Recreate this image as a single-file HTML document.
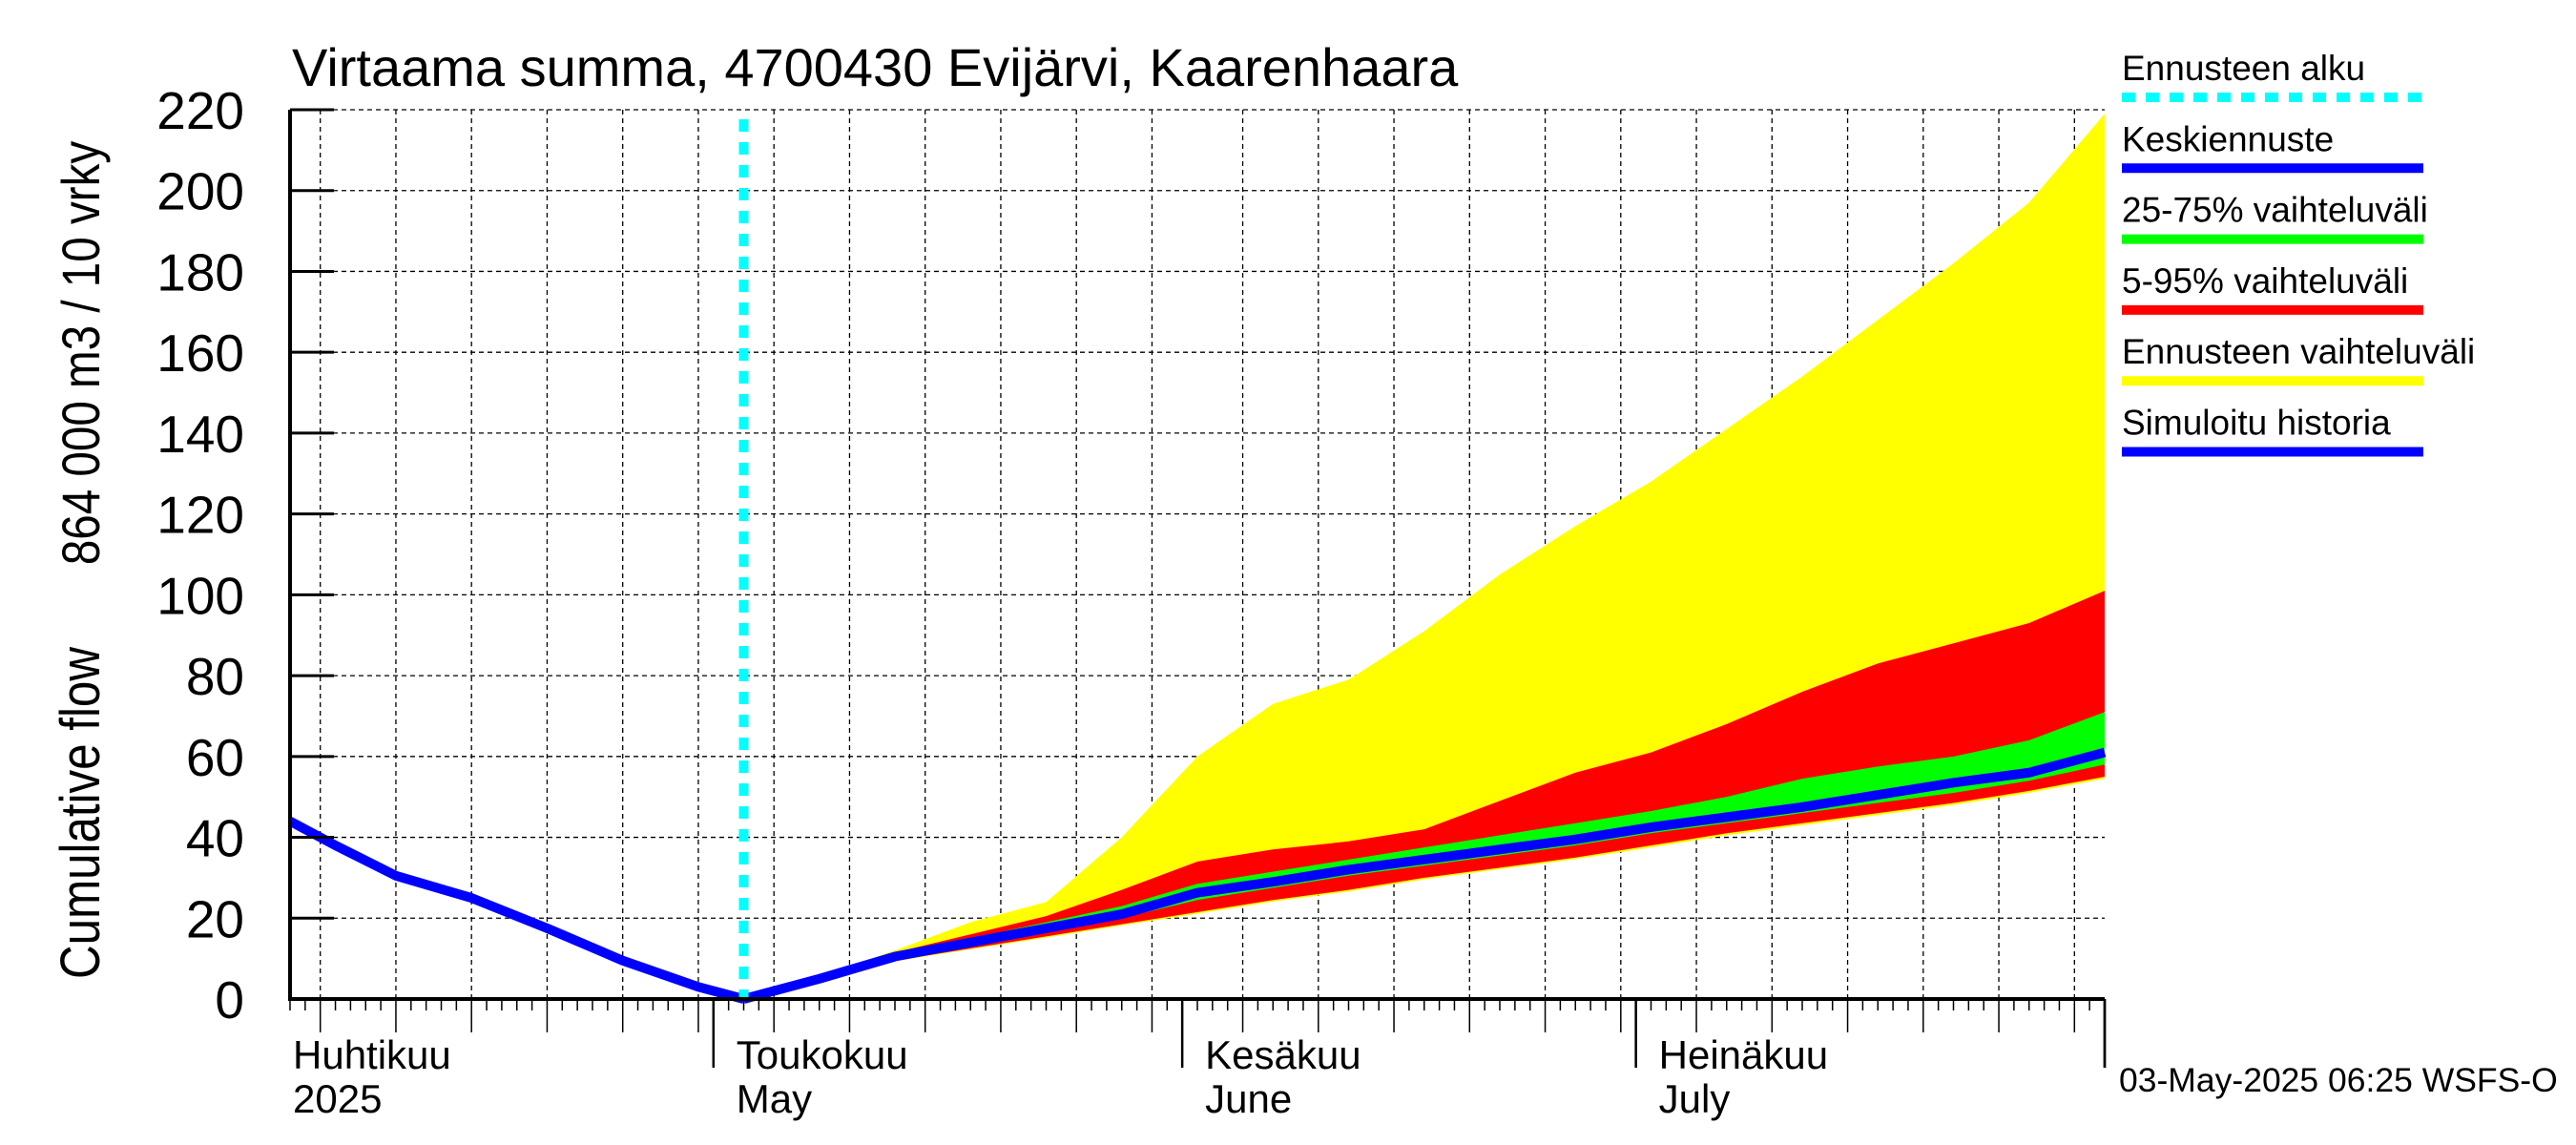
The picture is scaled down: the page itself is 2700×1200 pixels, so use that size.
<!DOCTYPE html>
<html><head><meta charset="utf-8"><style>
html,body{margin:0;padding:0;background:#fff;}
svg{display:block;font-family:"Liberation Sans",sans-serif;}
</style></head><body>
<svg id="chart" width="2700" height="1200" viewBox="0 0 2700 1200" xmlns="http://www.w3.org/2000/svg">
<g id="grid"></g>
<g id="bands"></g>
<g id="lines"></g>
<g id="axes"></g>
<text x="306" y="90" font-size="56">Virtaama summa, 4700430 Evijärvi, Kaarenhaara</text>
<text transform="translate(104,852) rotate(-90) scale(0.85,1)" text-anchor="middle" font-size="58">Cumulative flow</text>
<text transform="translate(104,370) rotate(-90) scale(0.85,1)" text-anchor="middle" font-size="56">864 000 m3 / 10 vrky</text>
<text x="2221" y="1144" font-size="35.5">03-May-2025 06:25 WSFS-O</text>
<g id="legend"></g>
</svg>
<script>
const histDays = [-28,-25,-21,-16,-11,-6,-1,2];
const histValues = [44,38,30.5,25,17.5,9.5,3,0];
const fcDays = [2,7,12,17,22,27,32,37,42,47,52,57,62,67,72,77,82,87,92];
const median = [0,5,10.5,14,17.5,21,26.3,29,32,34.5,37,39.5,42.5,45,47.5,50.5,53.5,56,61];
const low5 = [0,4.5,9.5,12.5,15.5,18.5,21.5,24.5,27,30,32.5,35,38,41,43.5,46,48.5,51.5,55];
const minAll = [0,4.4,9.3,12.3,15.2,18.2,21.1,24.1,26.6,29.6,32.1,34.6,37.5,40.5,43,45.5,48,51,54.5];
const low25 = [0,4.8,10,13.5,16.5,20,24.5,27.5,30.5,33,35.5,38,41,43.5,46,48.5,51,54,58];
const high75 = [0,5.2,11,15,19,23,28.5,31.5,34.5,37.5,40.5,43.5,46.5,50,54.5,57.5,60,64,71];
const high95 = [0,5.5,11.5,16,20.5,27,34,37,39,42,49,56,61,68,76,83,88,93,101];
const maxAll = [0,5.5,12,19,24,40,60,73,79,91,105,117,128,141,154,168,182,197,219];
const yTicks = [0,20,40,60,80,100,120,140,160,180,200,220];
const forecastStart = 2;
const monthLabels = [["Huhtikuu","2025",-28],["Toukokuu","May",0],["Kesäkuu","June",31],["Heinäkuu","July",61]];
const legendLabels = ["Ennusteen alku","Keskiennuste","25-75% vaihteluväli","5-95% vaihteluväli","Ennusteen vaihteluväli","Simuloitu historia"];

const NS="http://www.w3.org/2000/svg";
const L=304,R=2206,T=115,B=1047,D0=-28,D1=92,VMAX=220;
const X=d=>L+(d-D0)*(R-L)/(D1-D0);
const Y=v=>B-v*(B-T)/VMAX;
function mk(p,tag,a){const e=document.createElementNS(NS,tag);for(const k in a)e.setAttribute(k,a[k]);p.appendChild(e);return e;}
const grid=document.getElementById('grid'),bands=document.getElementById('bands'),lines=document.getElementById('lines'),axes=document.getElementById('axes'),legend=document.getElementById('legend');

for(const v of yTicks){ if(v===0)continue;
  const g=mk(grid,'line',{x1:L,x2:R,y1:Y(v),y2:Y(v),stroke:'#000','stroke-width':1.3,'stroke-dasharray':'5,4'});
  
  
}
for(let d=D0;d<=D1;d++){
  const dt=new Date(2025,4,1+d);const dom=dt.getDate();
  if(dom%5===0 && d>D0 && d<D1){
    const g=mk(grid,'line',{x1:X(d),x2:X(d),y1:T,y2:B,stroke:'#000','stroke-width':1.3,'stroke-dasharray':'5,4'});
    
    
  }
  let len=12; if(dom%5===0)len=35; if(dom===1)len=72;
  const t=mk(axes,'line',{x1:X(d),x2:X(d),y1:B,y2:B+len,stroke:'#000','stroke-width':dom===1?2.5:1.5});
  
  
}
function area(up,lo,fill,name){
  let p='';fcDays.forEach((d,i)=>p+=(i?'L':'M')+X(d)+','+Y(up[i]));
  for(let i=fcDays.length-1;i>=0;i--)p+='L'+X(fcDays[i])+','+Y(lo[i]);
  const e=mk(bands,'path',{d:p+'Z',fill:fill});
  
  
}
area(maxAll,minAll,'#ffff00','forecast-range-band');
area(high95,low5,'#ff0000','band-5-95');
area(high75,low25,'#00ff00','band-25-75');
function line(ds,vs,name){
  const pts=ds.map((d,i)=>X(d)+','+Y(vs[i])).join(' ');
  const e=mk(lines,'polyline',{points:pts,fill:'none',stroke:'#0000ff','stroke-width':10,'stroke-linejoin':'round'});
  
  
}
line(histDays,histValues,'simulated-history-line');
line(fcDays,median,'median-forecast-line');
const fs=mk(lines,'line',{x1:X(forecastStart),x2:X(forecastStart),y1:T+10,y2:B,stroke:'#00ffff','stroke-width':10,'stroke-dasharray':'13,11'});



const ax=mk(axes,'path',{d:`M${L},${T} L${L},${B} L${R},${B}`,fill:'none',stroke:'#000','stroke-width':4});


const rt=mk(axes,'line',{x1:R,x2:R,y1:B,y2:B+72,stroke:'#000','stroke-width':2.5});


for(const v of yTicks){
  const t=mk(axes,'line',{x1:L,x2:L+46,y1:Y(v),y2:Y(v),stroke:'#000','stroke-width':3});
  
  
  const lb=mk(axes,'text',{x:256,y:Y(v)+20,'text-anchor':'end','font-size':55});
  lb.textContent=v;
  
  
}
for(const [a,b,d] of monthLabels){
  const x=d===D0?307:X(d)+24;
  const t1=mk(axes,'text',{x:x,y:1120,'font-size':42});t1.textContent=a;
  
  
  const t2=mk(axes,'text',{x:x,y:1166,'font-size':42});t2.textContent=b;
  
  
}
const lgColors=['#00ffff','#0000ff','#00ff00','#ff0000','#ffff00','#0000ff'];
legendLabels.forEach((s,i)=>{
  const y=84+i*74.3;
  const t=mk(legend,'text',{x:2224,y:y,'font-size':37});t.textContent=s;
  
  
  const a={x1:2224,x2:2540,y1:y+18,y2:y+18,stroke:lgColors[i],'stroke-width':10};
  if(i===0)a['stroke-dasharray']='14,11';
  const l=mk(legend,'line',a);
  
  
});
</script>
</body></html>
